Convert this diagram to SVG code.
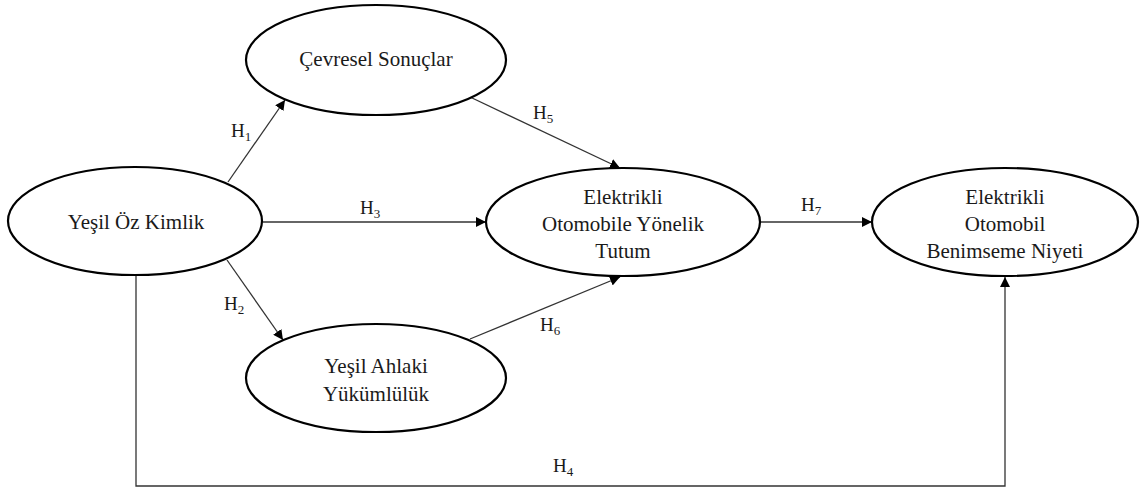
<svg xmlns="http://www.w3.org/2000/svg" width="1141" height="489" viewBox="0 0 1141 489">
<style>
.node ellipse{fill:#fff;stroke:#000;stroke-width:2.2}
.node text{font-family:"Liberation Serif","Times New Roman",serif;font-size:21px;fill:#1a1a1a;text-anchor:middle}
.conn line,.conn polyline{stroke:#333;stroke-width:1.3;fill:none}
.lbl{font-family:"Liberation Serif","Times New Roman",serif;font-size:19px;fill:#1a1a1a}
.sub{font-size:13px}
</style>
<defs>
<marker id="arr" viewBox="0 0 10 10" refX="10" refY="5" markerWidth="10" markerHeight="10" markerUnits="userSpaceOnUse" orient="auto">
<path d="M0,0 L10,5 L0,10 z" fill="#000"/>
</marker>
</defs>
<rect width="1141" height="489" fill="#fff"/>
<g class="conn">
<line x1="228" y1="182" x2="285" y2="100" marker-end="url(#arr)"/>
<line x1="263" y1="222" x2="486" y2="222" marker-end="url(#arr)"/>
<line x1="227" y1="260" x2="283" y2="340" marker-end="url(#arr)"/>
<line x1="470" y1="97" x2="620" y2="168" marker-end="url(#arr)"/>
<line x1="470" y1="339" x2="620" y2="277" marker-end="url(#arr)"/>
<line x1="760" y1="222" x2="872" y2="222" marker-end="url(#arr)"/>
<polyline points="136,276 136,486 1005,486 1005,277" marker-end="url(#arr)"/>
<text class="lbl" x="231" y="137">H<tspan class="sub" dy="4">1</tspan></text>
<text class="lbl" x="360" y="214">H<tspan class="sub" dy="4">3</tspan></text>
<text class="lbl" x="224" y="310">H<tspan class="sub" dy="4">2</tspan></text>
<text class="lbl" x="533" y="119">H<tspan class="sub" dy="4">5</tspan></text>
<text class="lbl" x="540" y="331">H<tspan class="sub" dy="4">6</tspan></text>
<text class="lbl" x="801" y="211">H<tspan class="sub" dy="4">7</tspan></text>
<text class="lbl" x="553" y="472">H<tspan class="sub" dy="4">4</tspan></text>
</g>
<g id="yesil-oz-kimlik" class="node">
<ellipse cx="135" cy="221" rx="127" ry="54"/>
<text x="136" y="229">Yeşil Öz Kimlik</text>
</g>
<g id="cevresel-sonuclar" class="node">
<ellipse cx="376" cy="60" rx="130" ry="55"/>
<text x="376" y="66">Çevresel Sonuçlar</text>
</g>
<g id="tutum" class="node">
<ellipse cx="623" cy="222" rx="137" ry="54"/>
<text x="623" y="204">Elektrikli</text>
<text x="623" y="231">Otomobile Yönelik</text>
<text x="623" y="258">Tutum</text>
</g>
<g id="ahlaki-yukumluluk" class="node">
<ellipse cx="376" cy="378" rx="130" ry="54"/>
<text x="376" y="373">Yeşil Ahlaki</text>
<text x="376" y="401">Yükümlülük</text>
</g>
<g id="benimseme-niyeti" class="node">
<ellipse cx="1005" cy="222" rx="133" ry="54"/>
<text x="1005" y="204">Elektrikli</text>
<text x="1005" y="231">Otomobil</text>
<text x="1005" y="258">Benimseme Niyeti</text>
</g>
</svg>
